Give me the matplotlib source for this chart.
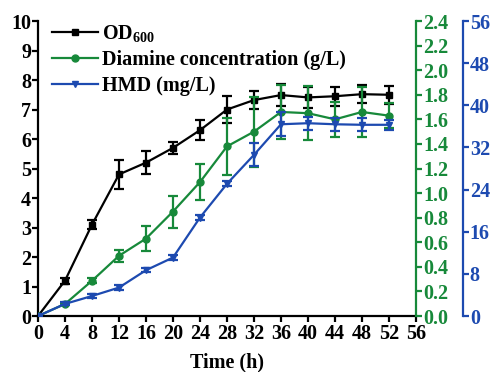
import numpy as np
import matplotlib.pyplot as plt

plt.rcParams['font.family'] = 'Liberation Serif'
plt.rcParams['font.weight'] = 'bold'
plt.rcParams['mathtext.fontset'] = 'custom'
plt.rcParams['mathtext.rm'] = 'Liberation Serif:bold'
plt.rcParams['mathtext.default'] = 'rm'

# time points (h)
time = [0, 4, 8, 12, 16, 20, 24, 28, 32, 36, 40, 44, 48, 52]

# OD600 (left axis)
od600 = [0, 1.2, 3.1, 4.8, 5.2, 5.7, 6.3, 7.0, 7.32, 7.49, 7.41, 7.45, 7.52, 7.5]
od600_err = [0, 0.1, 0.15, 0.5, 0.4, 0.2, 0.35, 0.45, 0.3, 0.37, 0.35, 0.32, 0.3, 0.3]

# diamine concentration (g/L)
diamine = [0, 0.098, 0.287, 0.49, 0.63, 0.85, 1.09, 1.38, 1.5, 1.66, 1.65, 1.6, 1.66, 1.63]
diamine_err = [0, 0.01, 0.02, 0.05, 0.1, 0.13, 0.15, 0.235, 0.285, 0.22, 0.22, 0.14, 0.2, 0.1]

# HMD (mg/L)
hmd = [0, 2.3, 3.8, 5.4, 8.7, 11.1, 18.7, 25.1, 30.6, 36.4, 36.6, 36.4, 36.3, 36.3]
hmd_err = [0, 0.3, 0.3, 0.4, 0.4, 0.4, 0.5, 0.5, 2.2, 2.3, 1.2, 1.2, 1.2, 1.0]

green = '#17893a'
blue = '#1d4ab0'

fig = plt.figure(figsize=(4.97, 3.72), dpi=100)
ax = fig.add_axes([0.0765, 0.1505, 0.7605, 0.793])
ax2 = ax.twinx()
ax3 = ax.twinx()
ax3.spines['right'].set_position(('axes', 1.124))

kw = dict(lw=1.6, ms=5, capsize=3.5, capthick=1.6, elinewidth=1.6)
l1 = ax.errorbar(time, od600, yerr=od600_err, color='black', marker='s', zorder=3, **kw)
l2 = ax2.errorbar(time, diamine, yerr=diamine_err, color=green, marker='o', **kw)
l3 = ax3.errorbar(time, hmd, yerr=hmd_err, color=blue, marker='v', **kw)

ax.set_xlim(0, 56)
ax.set_ylim(0, 10)
ax2.set_ylim(0, 2.4)
ax3.set_ylim(0, 56)
ax.set_xticks(np.arange(0, 57, 4))
ax.set_yticks(np.arange(0, 11, 1))
ax2.set_yticks(np.arange(0, 2.41, 0.2))
ax2.set_yticklabels(['%.1f' % v for v in np.arange(0, 2.41, 0.2)])
ax3.set_yticks(np.arange(0, 57, 8))

for a in (ax, ax2, ax3):
    for s in a.spines.values():
        s.set_linewidth(1.6)
    a.tick_params(direction='out', length=4, width=1.6, labelsize=14.5)
ax.spines['top'].set_visible(False)
ax2.spines['top'].set_visible(False)
ax3.spines['top'].set_visible(False)
ax.spines['right'].set_visible(False)
ax2.spines['left'].set_visible(False)
ax2.spines['bottom'].set_visible(False)
ax3.spines['left'].set_visible(False)
ax3.spines['bottom'].set_visible(False)
ax2.spines['right'].set_color(green)
ax3.spines['right'].set_color(blue)
ax2.tick_params(axis='y', colors=green, pad=1)
ax3.tick_params(axis='y', colors=blue, pad=1)
ax.tick_params(axis='x', pad=2)
ax.tick_params(axis='y', pad=1)

ax.set_xlabel('Time (h)', fontsize=14.5, fontweight='bold', labelpad=5.5)

leg = ax.legend(handles=[l1[0], l2[0], l3[0]],
                labels=['OD$_{600}$', 'Diamine concentration (g/L)', 'HMD (mg/L)'],
                loc='upper left', frameon=False, fontsize=14.5,
                handlelength=2.3, handletextpad=0.2, borderaxespad=0.0,
                labelspacing=0.3, bbox_to_anchor=(0.015, 1.02))

fig.savefig('out.png', dpi=100)
